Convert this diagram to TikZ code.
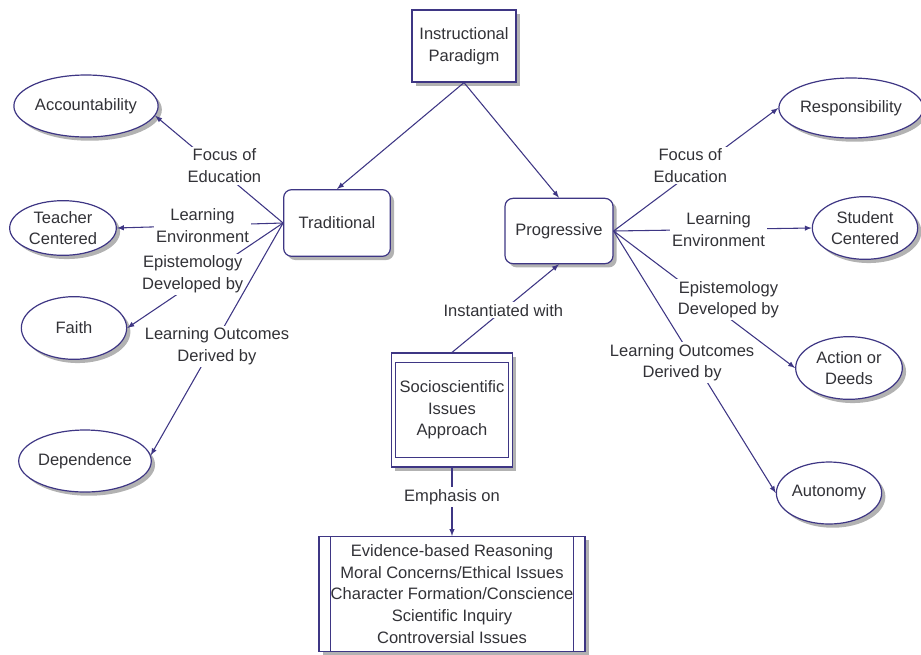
\documentclass[tikz,border=0pt]{standalone}
\usepackage{fontspec}
\setmainfont{Liberation Sans}
\usetikzlibrary{shapes.geometric}
\definecolor{conceptblue}{RGB}{62,54,132}
\definecolor{labelgray}{RGB}{50,50,55}

\begin{document}
\begin{tikzpicture}[x=0.75pt,y=-0.75pt]
  \tikzset{ every node/.style={text=labelgray,font=\fontsize{12.4}{16.2}\selectfont},
    shade/.style={preaction={draw=none,fill=black!30,transform canvas={shift={(2.8pt,-2.8pt)}}}},
    box/.style={rectangle,draw=conceptblue,line width=0.9pt,fill=white,align=center,inner sep=0pt,shade},
    rbox/.style={box,rounded corners=6pt},
    oval/.style={ellipse,draw=conceptblue,line width=0.9pt,fill=white,align=center,inner sep=0pt,shade},
    lbl/.style={fill=white,align=center,inner sep=1.5pt},
    link/.style={draw=conceptblue,line width=0.8pt,-latex},
  }
  \useasboundingbox (0,0) rectangle (921,654);

  \node[box,minimum width=78pt,minimum height=54pt] (para) at (464,46) {Instructional\\Paradigm};
  \node[rbox,minimum width=80pt,minimum height=50pt] (trad) at (337,223) {Traditional};
  \node[rbox,minimum width=81pt,minimum height=49pt] (prog) at (559,231) {Progressive};
  \node[box,minimum width=91pt,minimum height=85.5pt] (ssi) at (452,410) {Socioscientific\\Issues\\Approach};
  \draw[conceptblue,line width=0.9pt] ([shift={(5,10)}]ssi.north west) rectangle ([shift={(-5,-10)}]ssi.south east);
  \node[box,minimum width=199.5pt,minimum height=86pt] (emph) at (452,594) {Evidence-based Reasoning\\Moral Concerns/Ethical Issues\\Character Formation/Conscience\\Scientific Inquiry\\Controversial Issues};
  \draw[conceptblue,line width=0.9pt] ([xshift=9pt]emph.north west) -- ([xshift=9pt]emph.south west);
  \draw[conceptblue,line width=0.9pt] ([xshift=-9pt]emph.north east) -- ([xshift=-9pt]emph.south east);

  \node[oval,minimum width=106.5pt,minimum height=46.5pt] (acc) at (86,106) {Accountability};
  \node[oval,minimum width=80pt,minimum height=41pt] (tch) at (63,228) {Teacher\\Centered};
  \node[oval,minimum width=79pt,minimum height=47pt] (fth) at (74,328) {Faith};
  \node[oval,minimum width=93pt,minimum height=46.5pt] (dep) at (85,461) {Dependence};
  \node[oval,minimum width=103pt,minimum height=45pt] (rsp) at (851,108) {Responsibility};
  \node[oval,minimum width=79pt,minimum height=47pt] (stu) at (865,228) {Student\\Centered};
  \node[oval,minimum width=80pt,minimum height=47pt] (act) at (849,368) {Action or\\Deeds};
  \node[oval,minimum width=76.5pt,minimum height=46.5pt] (aut) at (829,493) {Autonomy};

  % the connection between the concepts
  \draw[link] (para.south) -- (trad.north);
  \draw[link] (para.south) -- (prog.north);
  \draw[link] (trad.west) -- (acc.-8) node[lbl,pos=0.49,xshift=3pt,yshift=3.5pt] {Focus of\\Education};
  \draw[link] (trad.west) -- (tch.east) node[lbl,pos=0.485] {Learning\\Environment};
  \draw[link] (trad.west) -- (fth.east) node[lbl,pos=0.55,xshift=-3.5pt,yshift=5pt] {Epistemology\\Developed by};
  \draw[link] (trad.west) -- (dep.5) node[lbl,pos=0.53,xshift=3pt] {Learning Outcomes\\Derived by};
  \draw[link] (prog.east) -- (rsp.west) node[lbl,pos=0.49,xshift=-3pt,yshift=4pt] {Focus of\\Education};
  \draw[link] (prog.east) -- (stu.west) node[lbl,pos=0.53] {Learning\\Environment};
  \draw[link] (prog.east) -- (act.west) node[lbl,pos=0.585,xshift=6.5pt,yshift=8.5pt] {Epistemology\\Developed by};
  \draw[link] (prog.east) -- (aut.west) node[lbl,pos=0.48,xshift=-7pt,yshift=-4.5pt] {Learning Outcomes\\Derived by};
  \draw[link] (ssi.north) -- (prog.south) node[lbl,pos=0.48] {Instantiated with};
  \draw[link] (ssi.south) -- (emph.north) node[lbl,pos=0.43] {Emphasis on};
\end{tikzpicture}
\end{document}
